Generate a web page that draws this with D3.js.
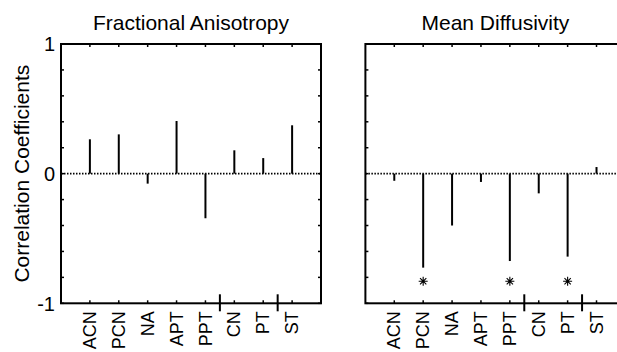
<!DOCTYPE html>
<html><head><meta charset="utf-8">
<script src="https://cdn.jsdelivr.net/npm/d3@7"></script>
<style>body{margin:0;background:#fff}svg{display:block;font-family:"Liberation Sans",Arial,sans-serif}</style>
</head><body>
<script>
const categories = ["ACN","PCN","NA","APT","PPT","CN","PT","ST"];
const faValues = [0.265, 0.303, -0.077, 0.406, -0.344, 0.18, 0.12, 0.373];
const mdValues = [-0.055, -0.725, -0.40, -0.064, -0.674, -0.152, -0.64, 0.051];
const mdSignificant = ["PCN","PPT","PT"];
const yTicks = [-1, 0, 1];
const groupSeparators = [5.5, 7.5];
const panelTitles = ["Fractional Anisotropy", "Mean Diffusivity"];

const W = 617, H = 352;
const svg = d3.select("body").append("svg").attr("width", W).attr("height", H);

const y = d3.scaleLinear().domain([-1, 1]).range([303.3, 44]);
const panels = [
  {title: panelTitles[0], values: faValues, x0: 61, showY: true, stars: []},
  {title: panelTitles[1], values: mdValues, x0: 365.4, showY: false, stars: mdSignificant}
];
const pw = 260;

panels.forEach(p => {
  const x = d3.scaleLinear().domain([0, 9]).range([p.x0, p.x0 + pw]);
  const g = svg.append("g");
  const top = y(1), bot = y(-1);
  g.append("line").attr("x1", x(0)).attr("x2", x(9)).attr("y1", y(0)).attr("y2", y(0))
    .attr("stroke", "#000").attr("stroke-width", 1.6).attr("stroke-dasharray", "1.5,1.5");
  g.selectAll("line.stem").data(p.values).join("line").attr("class", "stem")
    .attr("x1", (d, i) => x(i + 1)).attr("x2", (d, i) => x(i + 1))
    .attr("y1", y(0)).attr("y2", d => y(d))
    .attr("stroke", "#000").attr("stroke-width", 2);
  const yt = d3.range(-1, 1.0001, 0.2);
  yt.forEach(v => {
    g.append("line").attr("x1", x(0)).attr("x2", x(0) + 3).attr("y1", y(v)).attr("y2", y(v)).attr("stroke", "#000").attr("stroke-width", 1.5);
    g.append("line").attr("x1", x(9)).attr("x2", x(9) - 3).attr("y1", y(v)).attr("y2", y(v)).attr("stroke", "#000").attr("stroke-width", 1.5);
  });
  categories.forEach((c, i) => {
    g.append("line").attr("x1", x(i + 1)).attr("x2", x(i + 1)).attr("y1", bot).attr("y2", bot - 3).attr("stroke", "#000").attr("stroke-width", 1.5);
    g.append("line").attr("x1", x(i + 1)).attr("x2", x(i + 1)).attr("y1", top).attr("y2", top + 3).attr("stroke", "#000").attr("stroke-width", 1.5);
  });
  g.append("rect").attr("x", x(0)).attr("y", top).attr("width", pw).attr("height", bot - top)
    .attr("fill", "none").attr("stroke", "#000").attr("stroke-width", 2);
  groupSeparators.forEach(s => {
    g.append("line").attr("x1", x(s)).attr("x2", x(s)).attr("y1", bot - 9).attr("y2", bot + 8)
      .attr("stroke", "#000").attr("stroke-width", 2);
  });
  categories.forEach((c, i) => {
    g.append("text").attr("transform", `translate(${x(i + 1)},${bot + 8}) rotate(-90)`)
      .attr("text-anchor", "end").attr("dy", "0.34em").attr("font-size", 18).text(c);
  });
  g.append("text").attr("x", x(4.5)).attr("y", 30).attr("text-anchor", "middle").attr("font-size", 21).text(p.title);
  if (p.showY) {
    yTicks.forEach(v => {
      g.append("text").attr("x", x(0) - 6).attr("y", y(v)).attr("dy", "0.36em")
        .attr("text-anchor", "end").attr("font-size", 20).text(v);
    });
  }
  p.stars.forEach(s => {
    const i = categories.indexOf(s);
    const cx = x(i + 1), cy = y(-0.83), r = 4.5;
    const d = `M${cx - r},${cy}L${cx + r},${cy}M${cx},${cy - r}L${cx},${cy + r}` +
      `M${cx - r * 0.7},${cy - r * 0.7}L${cx + r * 0.7},${cy + r * 0.7}M${cx - r * 0.7},${cy + r * 0.7}L${cx + r * 0.7},${cy - r * 0.7}`;
    g.append("path").attr("d", d).attr("stroke", "#000").attr("stroke-width", 1.1).attr("fill", "none");
  });
});

svg.append("text").attr("transform", `translate(29,${y(0)}) rotate(-90)`)
  .attr("text-anchor", "middle").attr("font-size", 21).text("Correlation Coefficients");
</script>
</body></html>
